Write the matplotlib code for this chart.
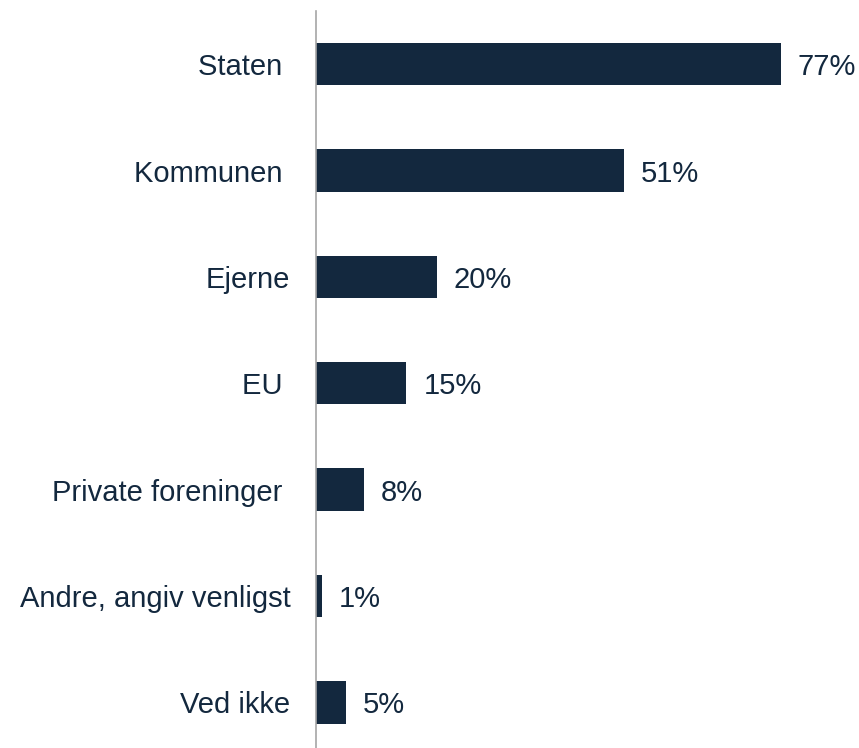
import matplotlib
matplotlib.use("Agg")
import matplotlib.pyplot as plt

categories = ["Staten ", "Kommunen ", "Ejerne", "EU ", "Private foreninger ",
              "Andre, angiv venligst", "Ved ikke"]
values = [77, 51, 20, 15, 8, 1, 5]
value_labels = ["77%", "51%", "20%", "15%", "8%", "1%", "5%"]

navy = "#13283e"

plt.rcParams["font.family"] = ["Liberation Sans", "DejaVu Sans"]

fig = plt.figure(figsize=(8.59, 7.48), dpi=100)
ax = fig.add_axes([316 / 859, 0.0, 1 - 316 / 859 - 0.03, 737 / 748])

pos = list(range(len(categories)))
ax.barh(pos, values, height=0.4, color=navy)

# percentage labels just right of each bar
for p, v, lab in zip(pos, values, value_labels):
    ax.annotate(lab, (v, p), xytext=(12.2, 0), textcoords="offset points",
                ha="left", va="center_baseline", fontsize=21, color=navy)

ax.set_yticks(pos)
ax.set_yticklabels(categories, fontsize=21, color=navy)
ax.tick_params(axis="y", length=0, pad=18.5)
ax.set_ylim(6.43, -0.5)
ax.set_xlim(0, 517 / 6.03)
ax.set_xticks([])

for s in ["top", "right", "bottom"]:
    ax.spines[s].set_visible(False)
ax.spines["left"].set_color("#a6a6a6")
ax.spines["left"].set_linewidth(1.2)

fig.savefig("out.png", dpi=100)
